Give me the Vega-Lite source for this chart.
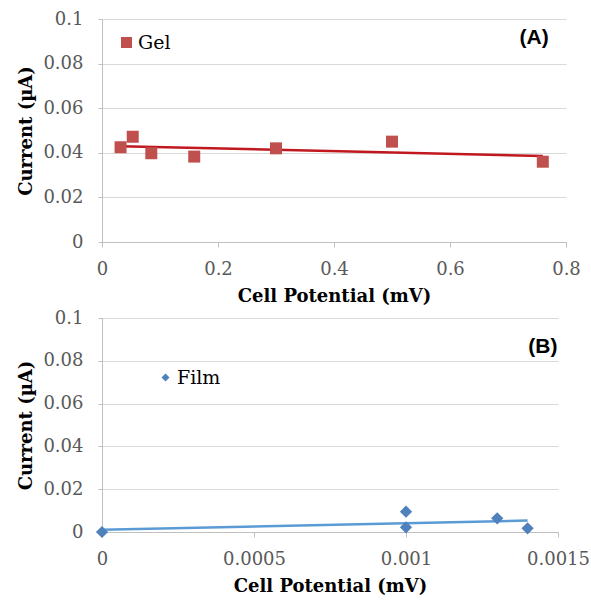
{
  "$schema": "https://vega.github.io/schema/vega-lite/v6.json",
  "background": "white",
  "padding": {"left": 17, "top": 10, "right": 0, "bottom": 0},
  "bounds": "flush",
  "spacing": 76,
  "datasets": {
    "gel": [
      {"potential": 0.032, "current": 0.0425, "series": "Gel"},
      {"potential": 0.053, "current": 0.0472, "series": "Gel"},
      {"potential": 0.085, "current": 0.0398, "series": "Gel"},
      {"potential": 0.159, "current": 0.0383, "series": "Gel"},
      {"potential": 0.3, "current": 0.042, "series": "Gel"},
      {"potential": 0.5, "current": 0.045, "series": "Gel"},
      {"potential": 0.76, "current": 0.036, "series": "Gel"}
    ],
    "film": [
      {"potential": 0, "current": 0, "series": "Film"},
      {"potential": 0.001, "current": 0.0095, "series": "Film"},
      {"potential": 0.001, "current": 0.0022, "series": "Film"},
      {"potential": 0.0013, "current": 0.0064, "series": "Film"},
      {"potential": 0.0014, "current": 0.0017, "series": "Film"}
    ],
    "labelA": [{"label": "(A)"}],
    "labelB": [{"label": "(B)"}]
  },
  "resolve": {
    "scale": {"color": "independent", "x": "independent", "y": "independent"},
    "legend": {"color": "independent"}
  },
  "vconcat": [
    {
      "width": 464,
      "height": 223,
      "layer": [
        {
          "data": {"name": "gel"},
          "transform": [{"regression": "current", "on": "potential"}],
          "mark": {"type": "line", "color": "#C0181E", "strokeWidth": 2.5},
          "encoding": {
            "x": {"field": "potential", "type": "quantitative", "scale": {"domain": [0, 0.8], "nice": false},
                  "axis": {"title": "Cell Potential (mV)", "values": [0, 0.2, 0.4, 0.6, 0.8], "format": "~g"}},
            "y": {"field": "current", "type": "quantitative", "scale": {"domain": [0, 0.1], "nice": false},
                  "axis": {"title": "Current (µA)", "values": [0, 0.02, 0.04, 0.06, 0.08, 0.1], "format": "~g"}}
          }
        },
        {
          "data": {"name": "gel"},
          "mark": {"type": "point", "shape": "square", "filled": true, "opacity": 1, "size": 144},
          "encoding": {
            "x": {"field": "potential", "type": "quantitative"},
            "y": {"field": "current", "type": "quantitative"},
            "color": {"field": "series", "type": "nominal", "scale": {"range": ["#C0504D"]},
                      "legend": {"orient": "none", "legendX": 15, "legendY": 14, "title": null, "padding": 0,
                                 "symbolType": "square", "symbolSize": 121, "symbolStrokeWidth": 0,
                                 "labelFont": "DejaVu Serif", "labelFontSize": 19, "labelColor": "#000000", "labelOffset": 2}}
          }
        },
        {
          "data": {"name": "labelA"},
          "mark": {"type": "text", "font": "Liberation Sans", "fontWeight": "bold", "fontSize": 21, "color": "#000000", "align": "center", "baseline": "middle"},
          "encoding": {
            "x": {"datum": 0.745, "type": "quantitative"},
            "y": {"datum": 0.0915, "type": "quantitative"},
            "text": {"field": "label"}
          }
        }
      ]
    },
    {
      "width": 456,
      "height": 214,
      "layer": [
        {
          "data": {"name": "film"},
          "transform": [{"regression": "current", "on": "potential"}],
          "mark": {"type": "line", "color": "#5B9BD5", "strokeWidth": 2.5},
          "encoding": {
            "x": {"field": "potential", "type": "quantitative", "scale": {"domain": [0, 0.0015], "nice": false},
                  "axis": {"title": "Cell Potential (mV)", "values": [0, 0.0005, 0.001, 0.0015], "format": "~g"}},
            "y": {"field": "current", "type": "quantitative", "scale": {"domain": [0, 0.1], "nice": false},
                  "axis": {"title": "Current (µA)", "values": [0, 0.02, 0.04, 0.06, 0.08, 0.1], "format": "~g"}}
          }
        },
        {
          "data": {"name": "film"},
          "mark": {"type": "point", "shape": "diamond", "filled": true, "opacity": 1, "size": 150},
          "encoding": {
            "x": {"field": "potential", "type": "quantitative"},
            "y": {"field": "current", "type": "quantitative"},
            "color": {"field": "series", "type": "nominal", "scale": {"range": ["#4F81BD"]},
                      "legend": {"orient": "none", "legendX": 54, "legendY": 50, "title": null, "padding": 0,
                                 "symbolType": "diamond", "symbolSize": 64, "symbolStrokeWidth": 0,
                                 "labelFont": "DejaVu Serif", "labelFontSize": 19, "labelColor": "#000000", "labelOffset": 2}}
          }
        },
        {
          "data": {"name": "labelB"},
          "mark": {"type": "text", "font": "Liberation Sans", "fontWeight": "bold", "fontSize": 21, "color": "#000000", "align": "center", "baseline": "middle"},
          "encoding": {
            "x": {"datum": 0.00145, "type": "quantitative"},
            "y": {"datum": 0.0864, "type": "quantitative"},
            "text": {"field": "label"}
          }
        }
      ]
    }
  ],
  "config": {
    "view": {"stroke": null},
    "axis": {
      "labelFont": "DejaVu Serif", "labelFontSize": 18, "labelColor": "#595959",
      "titleFont": "DejaVu Serif", "titleFontSize": 18, "titleFontWeight": "bold", "titleColor": "#000000",
      "domainColor": "#BFBFBF", "tickColor": "#BFBFBF", "gridColor": "#D9D9D9", "tickSize": 5
    },
    "axisX": {"grid": false, "labelPadding": 13, "titlePadding": 9, "labelFlush": false},
    "axisY": {"grid": true, "labelPadding": 15, "titlePadding": 7, "tickSize": 4}
  }
}
